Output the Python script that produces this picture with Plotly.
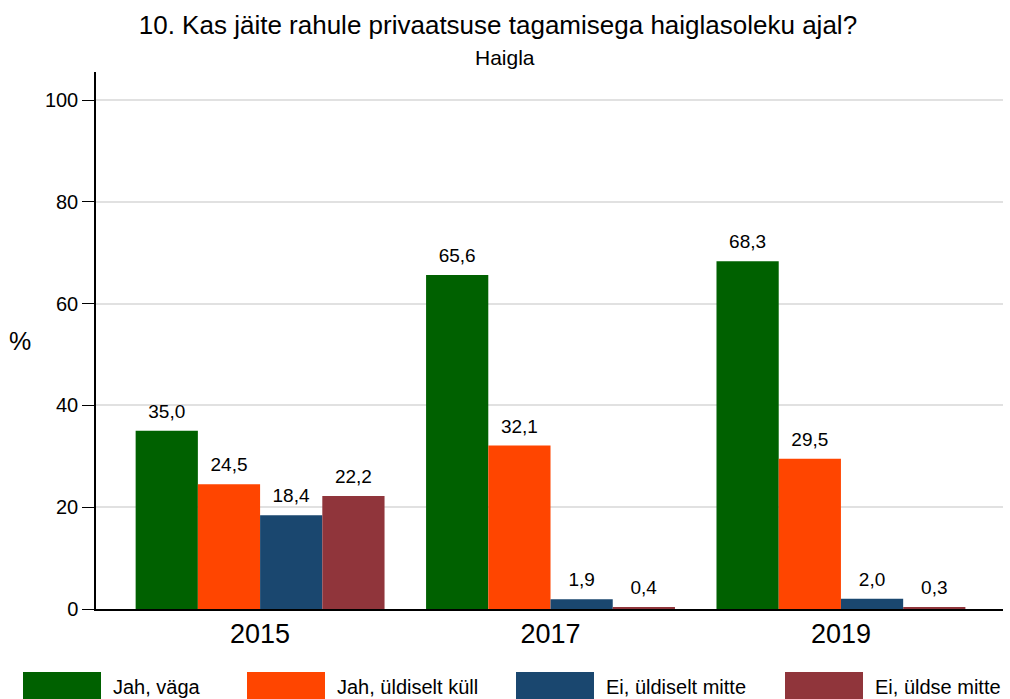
import plotly.graph_objects as go

years = ["2015", "2017", "2019"]
series_names = ["Jah, väga", "Jah, üldiselt küll", "Ei, üldiselt mitte", "Ei, üldse mitte"]
jah_vaga = [35.0, 65.6, 68.3]
jah_uldiselt = [24.5, 32.1, 29.5]
ei_uldiselt = [18.4, 1.9, 2.0]
ei_uldse = [22.2, 0.4, 0.3]
series_values = [jah_vaga, jah_uldiselt, ei_uldiselt, ei_uldse]
colors = ["#006100", "#ff4500", "#1a476f", "#90353b"]
y_ticks = [0, 20, 40, 60, 80, 100]

FONT = "Liberation Sans, Arial, sans-serif"
LABEL_LIFT = 1.2  # extra gap (in % units) between bar top and its value label

fig = go.Figure()
for i, (name, vals, col) in enumerate(zip(series_names, series_values, colors)):
    fig.add_trace(go.Bar(
        x=years, y=vals, name=name, offsetgroup=str(i),
        marker=dict(color=col, line=dict(width=0)),
        showlegend=False, hoverinfo="skip",
    ))
    # transparent copy, lifted slightly, that only carries the value label
    fig.add_trace(go.Bar(
        x=years, y=vals, base=LABEL_LIFT, offsetgroup=str(i),
        marker=dict(color="rgba(0,0,0,0)", line=dict(width=0)),
        text=[f"{v:.1f}".replace(".", ",") for v in vals],
        textposition="outside",
        textfont=dict(size=19, color="black", family=FONT),
        cliponaxis=False, showlegend=False, hoverinfo="skip",
    ))

fig.update_layout(
    width=1010, height=699,
    margin=dict(l=96, r=7, t=72, b=90),
    paper_bgcolor="white", plot_bgcolor="white",
    barmode="group", bargap=0.143, bargroupgap=0,
    font=dict(family=FONT, color="black"),
    title=dict(text="10. Kas jäite rahule privaatsuse tagamisega haiglasoleku ajal?",
               x=0.493, xanchor="center", y=0.965, yanchor="middle",
               font=dict(size=26, color="black", family=FONT)),
    xaxis=dict(range=[-0.565, 2.558], showline=True, linecolor="black", linewidth=1.5,
               ticks="", tickfont=dict(size=27, color="black"), showgrid=False,
               zeroline=False),
    yaxis=dict(range=[0, 105.5], tickvals=y_ticks, ticks="outside", ticklen=12,
               tickwidth=1, tickcolor="black", showline=True, linecolor="black",
               linewidth=1.5, showgrid=True, gridcolor="#e1e1e1", gridwidth=1.5,
               zeroline=False, tickfont=dict(size=20, color="black")),
)

fig.add_annotation(text="Haigla", xref="paper", yref="paper", x=(505 - 96) / 907, y=1.0,
                   yshift=15, xanchor="center", yanchor="middle", showarrow=False,
                   font=dict(size=21, color="black", family=FONT))
fig.add_annotation(text="%", xref="paper", yref="paper", x=0, xshift=-76, y=0.50,
                   xanchor="center", yanchor="middle", showarrow=False,
                   font=dict(size=25, color="black", family=FONT))

# legend drawn below the chart
box_left = [23, 247, 516, 785]
for name, col, bx in zip(series_names, colors, box_left):
    fig.add_shape(type="rect", xref="paper", yref="paper",
                  x0=(bx - 96) / 907, x1=(bx + 78 - 96) / 907,
                  y0=-(672 - 609) / 537, y1=-(702 - 609) / 537,
                  fillcolor=col, line=dict(width=0))
    fig.add_annotation(text=name, xref="paper", yref="paper",
                       x=(bx + 78 + 10 - 96) / 907, y=-(687 - 609) / 537,
                       xanchor="left", yanchor="middle", showarrow=False,
                       font=dict(size=20, color="black", family=FONT))

fig.write_html("out.html", config={"displayModeBar": False},
               post_script="document.body.style.margin='0';document.body.style.overflow='hidden';")
